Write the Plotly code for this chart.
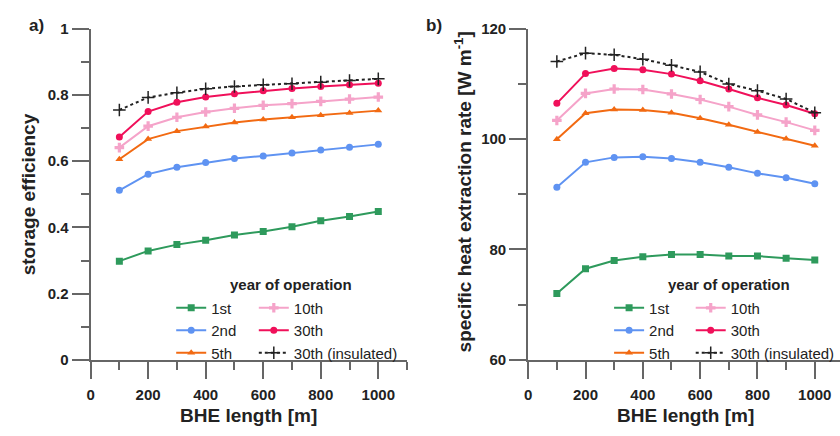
import plotly.graph_objects as go

# ---- data ----
bhe_length = [100, 200, 300, 400, 500, 600, 700, 800, 900, 1000]
series_names = ["1st", "2nd", "5th", "10th", "30th", "30th (insulated)"]

eff_1st = [0.298, 0.329, 0.348, 0.361, 0.377, 0.388, 0.402, 0.420, 0.433, 0.448]
eff_2nd = [0.512, 0.561, 0.582, 0.596, 0.608, 0.616, 0.625, 0.634, 0.642, 0.651]
eff_5th = [0.606, 0.667, 0.691, 0.705, 0.717, 0.726, 0.733, 0.739, 0.746, 0.753]
eff_10th = [0.641, 0.706, 0.733, 0.749, 0.760, 0.769, 0.774, 0.781, 0.788, 0.794]
eff_30th = [0.673, 0.750, 0.778, 0.794, 0.804, 0.813, 0.820, 0.826, 0.831, 0.836]
eff_30th_ins = [0.755, 0.793, 0.807, 0.819, 0.826, 0.831, 0.834, 0.839, 0.844, 0.849]

rate_1st = [72.0, 76.5, 78.0, 78.7, 79.1, 79.1, 78.8, 78.8, 78.4, 78.1]
rate_2nd = [91.3, 95.8, 96.7, 96.8, 96.5, 95.8, 94.9, 93.8, 93.0, 91.9]
rate_5th = [100.0, 104.7, 105.4, 105.3, 104.8, 103.8, 102.6, 101.3, 100.1, 98.8]
rate_10th = [103.4, 108.3, 109.1, 109.0, 108.2, 107.2, 105.9, 104.4, 103.1, 101.6]
rate_30th = [106.5, 111.9, 112.8, 112.6, 111.8, 110.6, 109.1, 107.5, 106.2, 104.6]
rate_30th_ins = [114.1, 115.6, 115.3, 114.5, 113.4, 112.2, 110.0, 108.8, 107.3, 104.8]

eff_all = [eff_1st, eff_2nd, eff_5th, eff_10th, eff_30th, eff_30th_ins]
rate_all = [rate_1st, rate_2nd, rate_5th, rate_10th, rate_30th, rate_30th_ins]

x_ticks = [0, 200, 400, 600, 800, 1000]

# ---- styles ----
colors = ["#2e9a5c", "#5f93f2", "#f26a12", "#f5a3c9", "#f0105a", "#222222"]
symbols = ["square", "circle", "triangle-up", "cross", "circle", "cross-thin"]
sizes = [7, 7, 7, 8, 7, 9]
dashes = ["solid", "solid", "solid", "solid", "solid", "dot"]

W, H = 840, 436
def px(v):
    return v / W
def py(v):
    return (H - v) / H

fig = go.Figure()

legend_ids = [["legend", "legend2"], ["legend3", "legend4"]]
for panel, (data, xa, ya) in enumerate([(eff_all, "x", "y"), (rate_all, "x2", "y2")]):
    for i, name in enumerate(series_names):
        fig.add_trace(go.Scatter(
            x=bhe_length, y=data[i], name=name, xaxis=xa, yaxis=ya,
            mode="lines+markers",
            line=dict(color=colors[i], width=2, dash=dashes[i]),
            marker=dict(symbol=symbols[i], size=sizes[i], color=colors[i],
                        line=dict(color=colors[i], width=1.5 if symbols[i] == "cross-thin" else 0)),
            legend=legend_ids[panel][0 if i < 3 else 1],
        ))

axis_color = "#666666"
tickfont = dict(family="Liberation Sans, Arial", size=15, color="#222222", weight="bold")

def xaxis_cfg(domain, rng, anchor):
    return dict(domain=domain, range=rng, anchor=anchor, showgrid=False, zeroline=False,
                showline=True, linecolor=axis_color, linewidth=2,
                tickmode="array", tickvals=x_ticks, ticks="outside", ticklen=17,
                tickwidth=2, tickcolor=axis_color, tickfont=tickfont, ticklabelstandoff=3,
                minor=dict(dtick=100, tick0=0, ticks="outside", ticklen=8,
                           tickwidth=2, tickcolor=axis_color))

def yaxis_cfg(anchor, rng, dtick, mdtick):
    return dict(domain=[py(365), py(20.7)], range=rng, anchor=anchor, showgrid=False,
                zeroline=False, showline=True, linecolor=axis_color, linewidth=2,
                dtick=dtick, tick0=0, ticks="outside", ticklen=17, tickwidth=2,
                tickcolor=axis_color, tickfont=tickfont,
                minor=dict(dtick=mdtick, ticks="outside", ticklen=8,
                           tickwidth=2, tickcolor=axis_color))

legend_font = dict(family="Liberation Sans, Arial", size=15, color="#222222")
def legend_cfg(xp):
    return dict(x=px(xp), y=py(294), xanchor="left", yanchor="top",
                bgcolor="rgba(0,0,0,0)", font=legend_font, itemwidth=30,
                tracegroupgap=0, borderwidth=0)

title_font = dict(family="Liberation Sans, Arial", size=19, color="#222222", weight="bold")
label_font = dict(family="Liberation Sans, Arial", size=17, color="#222222", weight="bold")
leg_title_font = dict(family="Liberation Sans, Arial", size=15, color="#222222", weight="bold")

annotations = [
    dict(text="a)", x=px(33), y=py(17), font=label_font),
    dict(text="b)", x=px(432), y=py(17), font=label_font),
    dict(text="storage efficiency", x=px(25), y=py(193), textangle=-90, font=title_font),
    dict(text="specific heat extraction rate [W m<sup>-1</sup>]", x=px(461), y=py(190),
         textangle=-90, font=title_font),
    dict(text="BHE length [m]", x=px(246), y=py(423), font=title_font),
    dict(text="BHE length [m]", x=px(685), y=py(423), font=title_font),
    dict(text="year of operation", x=px(288), y=py(287), font=leg_title_font),
    dict(text="year of operation", x=px(728), y=py(287), font=leg_title_font),
]
for a in annotations:
    a.update(xref="paper", yref="paper", showarrow=False, xanchor="center", yanchor="middle")

fig.update_layout(
    width=W, height=H,
    margin=dict(l=0, r=0, t=0, b=0),
    paper_bgcolor="white", plot_bgcolor="white",
    xaxis=xaxis_cfg([px(87), px(405)], [0, 1100], "y"),
    yaxis=yaxis_cfg("x", [0, 1], 0.2, 0.1),
    xaxis2=xaxis_cfg([px(526.7), 1.0], [0, 1088], "y2"),
    yaxis2=yaxis_cfg("x2", [60, 120], 20, 10),
    legend=legend_cfg(168),
    legend2=legend_cfg(251),
    legend3=legend_cfg(608),
    legend4=legend_cfg(690),
    annotations=annotations,
    showlegend=True,
)

fig.write_html("out.html")
